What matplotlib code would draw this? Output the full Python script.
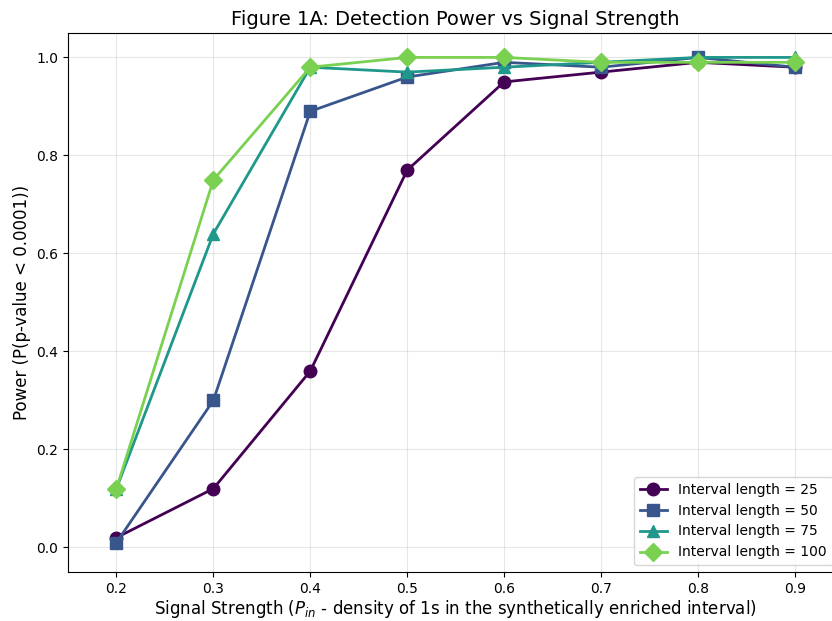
import numpy as np
import matplotlib
matplotlib.use("Agg")
import matplotlib.pyplot as plt

# Signal strength values (P_in)
signal = [0.2, 0.3, 0.4, 0.5, 0.6, 0.7, 0.8, 0.9]

# Power for each interval length
power_25 = [0.02, 0.12, 0.36, 0.77, 0.95, 0.97, 0.99, 0.98]
power_50 = [0.01, 0.30, 0.89, 0.96, 0.99, 0.98, 1.00, 0.98]
power_75 = [0.12, 0.64, 0.98, 0.97, 0.98, 0.99, 1.00, 1.00]
power_100 = [0.12, 0.75, 0.98, 1.00, 1.00, 0.99, 0.99, 0.99]

lengths = [25, 50, 75, 100]
series = [power_25, power_50, power_75, power_100]
markers = ["o", "s", "^", "D"]
colors = plt.cm.viridis(np.linspace(0, 0.8, 4))

fig = plt.figure(figsize=(8.32, 6.21), dpi=100)
# axes run slightly past the right edge, as in the reference crop
ax = fig.add_axes([0.0817, 0.079, 0.932, 0.868])

for L, vals, m, c in zip(lengths, series, markers, colors):
    ax.plot(signal, vals, marker=m, color=c, linewidth=2, markersize=9,
            label=f"Interval length = {L}")

ax.set_xlim(0.15, 0.95)
ax.set_ylim(-0.05, 1.05)
ax.set_xlabel(r"Signal Strength ($P_{in}$ - density of 1s in the synthetically enriched interval)",
              fontsize=12, labelpad=2)
ax.set_ylabel("Power (P(p-value < 0.0001))", fontsize=12)
ax.set_title("Figure 1A: Detection Power vs Signal Strength", fontsize=14)
ax.grid(True, alpha=0.3)
ax.legend(loc="lower right", fontsize=10, bbox_to_anchor=(0.995, 0.0))

fig.savefig("out.png", dpi=100)
